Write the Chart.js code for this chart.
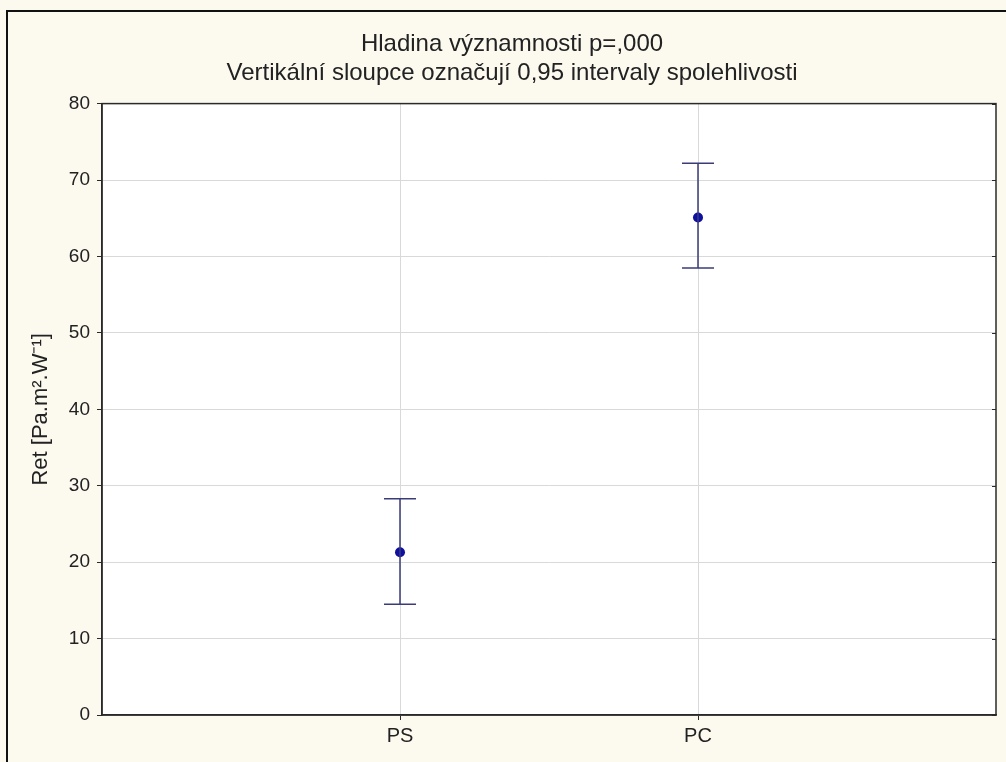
<!DOCTYPE html>
<html>
<head>
<meta charset="utf-8">
<script src="https://cdn.jsdelivr.net/npm/chart.js@4"></script>
<style>
  html, body { margin: 0; padding: 0; background: #fcf9ef; overflow: hidden; }
  #wrap { width: 1006px; height: 762px; position: relative; }
</style>
</head>
<body>
<div id="wrap"><canvas id="c" width="1006" height="762"></canvas></div>
<script>
const titleLines = ['Hladina významnosti p=,000', 'Vertikální sloupce označují 0,95 intervaly spolehlivosti'];
const yAxisTitle = 'Ret [Pa.m².W⁻¹]';
const categories = ['PS', 'PC'];
const categoryPositions = [1, 2];
const means = [21.3, 65.1];
const lower = [14.5, 58.5];
const upper = [28.3, 72.2];
const yMin = 0, yMax = 80, yStep = 10;

const FONT = '"Liberation Sans", Arial, sans-serif';
const TEXT = '#222222';
const LINE = '#3b3b78';
const DOT = '#1010a0';

const framePlugin = {
  id: 'frame',
  beforeDraw(chart) {
    const ctx = chart.ctx, a = chart.chartArea;
    ctx.save();
    ctx.fillStyle = '#fcf9ef';
    ctx.fillRect(0, 0, chart.width, chart.height);
    ctx.fillStyle = '#ffffff';
    ctx.fillRect(a.left, a.top, a.right - a.left, a.bottom - a.top);
    ctx.strokeStyle = '#111111';
    ctx.lineWidth = 2;
    ctx.beginPath();
    ctx.moveTo(7, chart.height);
    ctx.lineTo(7, 11);
    ctx.lineTo(chart.width, 11);
    ctx.stroke();
    ctx.restore();
  },
  afterDraw(chart) {
    const ctx = chart.ctx, a = chart.chartArea, y = chart.scales.y;
    ctx.save();
    ctx.strokeStyle = '#2a2a2a';
    ctx.lineWidth = 1.5;
    ctx.strokeRect(a.left, a.top, a.right - a.left, a.bottom - a.top);
    ctx.lineWidth = 1;
    ctx.beginPath();
    y.ticks.forEach(t => {
      const py = Math.round(y.getPixelForValue(t.value)) + 0.5;
      ctx.moveTo(a.right - 4, py);
      ctx.lineTo(a.right, py);
    });
    ctx.stroke();
    ctx.restore();
  }
};

const whiskerSets = categories.map((c, i) => ({
  type: 'line',
  label: c + ' CI',
  data: [{x: categoryPositions[i], y: lower[i]}, {x: categoryPositions[i], y: upper[i]}],
  borderColor: LINE,
  borderWidth: 1.5,
  showLine: true,
  pointStyle: 'line',
  pointRadius: 16,
  pointHoverRadius: 16,
  pointBorderColor: LINE,
  pointBorderWidth: 1.5,
  fill: false
}));

const meanSet = {
  type: 'scatter',
  label: 'Průměr',
  data: categories.map((c, i) => ({x: categoryPositions[i], y: means[i]})),
  pointRadius: 5,
  pointHoverRadius: 5,
  pointBackgroundColor: DOT,
  pointBorderColor: DOT,
  pointBorderWidth: 0
};

new Chart(document.getElementById('c'), {
  type: 'scatter',
  data: { datasets: [...whiskerSets, meanSet] },
  plugins: [framePlugin],
  options: {
    responsive: false,
    animation: false,
    events: [],
    layout: { autoPadding: false, padding: { left: 28, right: 10, top: 0, bottom: 0 } },
    plugins: {
      legend: { display: false },
      tooltip: { enabled: false },
      title: {
        display: true,
        text: titleLines,
        color: TEXT,
        font: { family: FONT, size: 24, weight: 'normal', lineHeight: 1.2 },
        padding: { top: 30, bottom: 16 }
      }
    },
    scales: {
      x: {
        type: 'linear',
        min: 0,
        max: categories.length + 1,
        afterBuildTicks: s => { s.ticks = categoryPositions.map(v => ({ value: v })); },
        afterFit: s => { s.height = 47; },
        ticks: {
          callback: v => categories[categoryPositions.indexOf(v)] || '',
          color: TEXT,
          font: { family: FONT, size: 20 },
          padding: 4,
          maxRotation: 0
        },
        grid: { color: '#d9d9d9', lineWidth: 1, tickLength: 5, tickColor: '#2a2a2a' },
        border: { display: true, color: '#2a2a2a', width: 1.5 }
      },
      y: {
        type: 'linear',
        min: yMin,
        max: yMax,
        afterFit: s => { s.width = 74; },
        ticks: {
          stepSize: yStep,
          color: TEXT,
          font: { family: FONT, size: 19 },
          padding: 7
        },
        title: {
          display: true,
          text: yAxisTitle,
          color: TEXT,
          font: { family: FONT, size: 22 },
          padding: { top: 0, bottom: 0 }
        },
        grid: { color: '#d9d9d9', lineWidth: 1, tickLength: 5, tickColor: '#2a2a2a' },
        border: { display: true, color: '#2a2a2a', width: 1.5 }
      }
    }
  }
});
</script>
</body>
</html>
